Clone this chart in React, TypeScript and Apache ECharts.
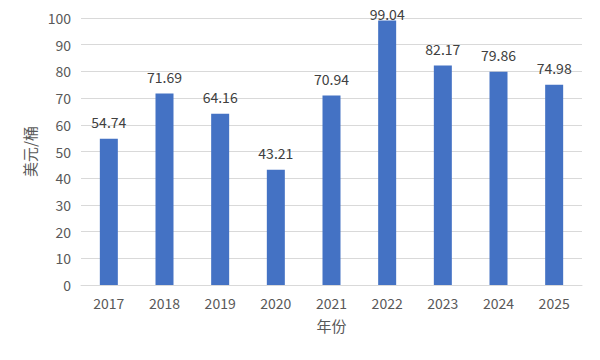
import React, { useEffect, useRef } from "react";
import * as echarts from "echarts";

const years = ["2017", "2018", "2019", "2020", "2021", "2022", "2023", "2024", "2025"];
const prices = [54.74, 71.69, 64.16, 43.21, 70.94, 99.04, 82.17, 79.86, 74.98];
const yAxisName = "美元/桶";
const xAxisName = "年份";

const FONT = "'Microsoft YaHei', 'Noto Sans CJK SC', sans-serif";
const TXT = "#595959";

export default function App() {
  const ref = useRef<HTMLDivElement>(null);
  useEffect(() => {
    const chart = echarts.init(ref.current!, null, { renderer: "svg" });
    const seriesData = prices.map((v) =>
      v > 95 ? { value: v, label: { distance: 0 } } : v
    );
    chart.setOption({
      animation: false,
      textStyle: { fontFamily: FONT },
      grid: { left: 81, right: 18, top: 18, bottom: 75 },
      xAxis: {
        type: "category",
        data: years,
        name: xAxisName,
        nameLocation: "middle",
        nameGap: 33,
        nameTextStyle: { color: TXT, fontSize: 15, fontFamily: FONT },
        axisLine: { lineStyle: { color: "#d9d9d9" } },
        axisTick: { show: false },
        axisLabel: { color: TXT, fontSize: 14, margin: 11, fontFamily: FONT },
      },
      yAxis: {
        type: "value",
        min: 0,
        max: 100,
        interval: 10,
        name: yAxisName,
        nameLocation: "middle",
        nameGap: 44,
        nameRotate: 90,
        nameTextStyle: { color: TXT, fontSize: 15, fontFamily: FONT },
        axisLine: { show: false },
        axisTick: { show: false },
        axisLabel: { color: TXT, fontSize: 14, margin: 10, fontFamily: FONT },
        splitLine: { lineStyle: { color: "#d9d9d9" } },
      },
      series: [
        {
          type: "bar",
          data: seriesData,
          barWidth: 18,
          itemStyle: { color: "#4472C4" },
          label: {
            show: true,
            position: "top",
            distance: 10,
            color: "#404040",
            fontSize: 14,
            fontFamily: FONT,
          },
        },
      ],
    });
    return () => chart.dispose();
  }, []);
  return (
    <div
      ref={ref}
      style={{ position: "absolute", left: 0, top: 0, width: 600, height: 360 }}
    />
  );
}
